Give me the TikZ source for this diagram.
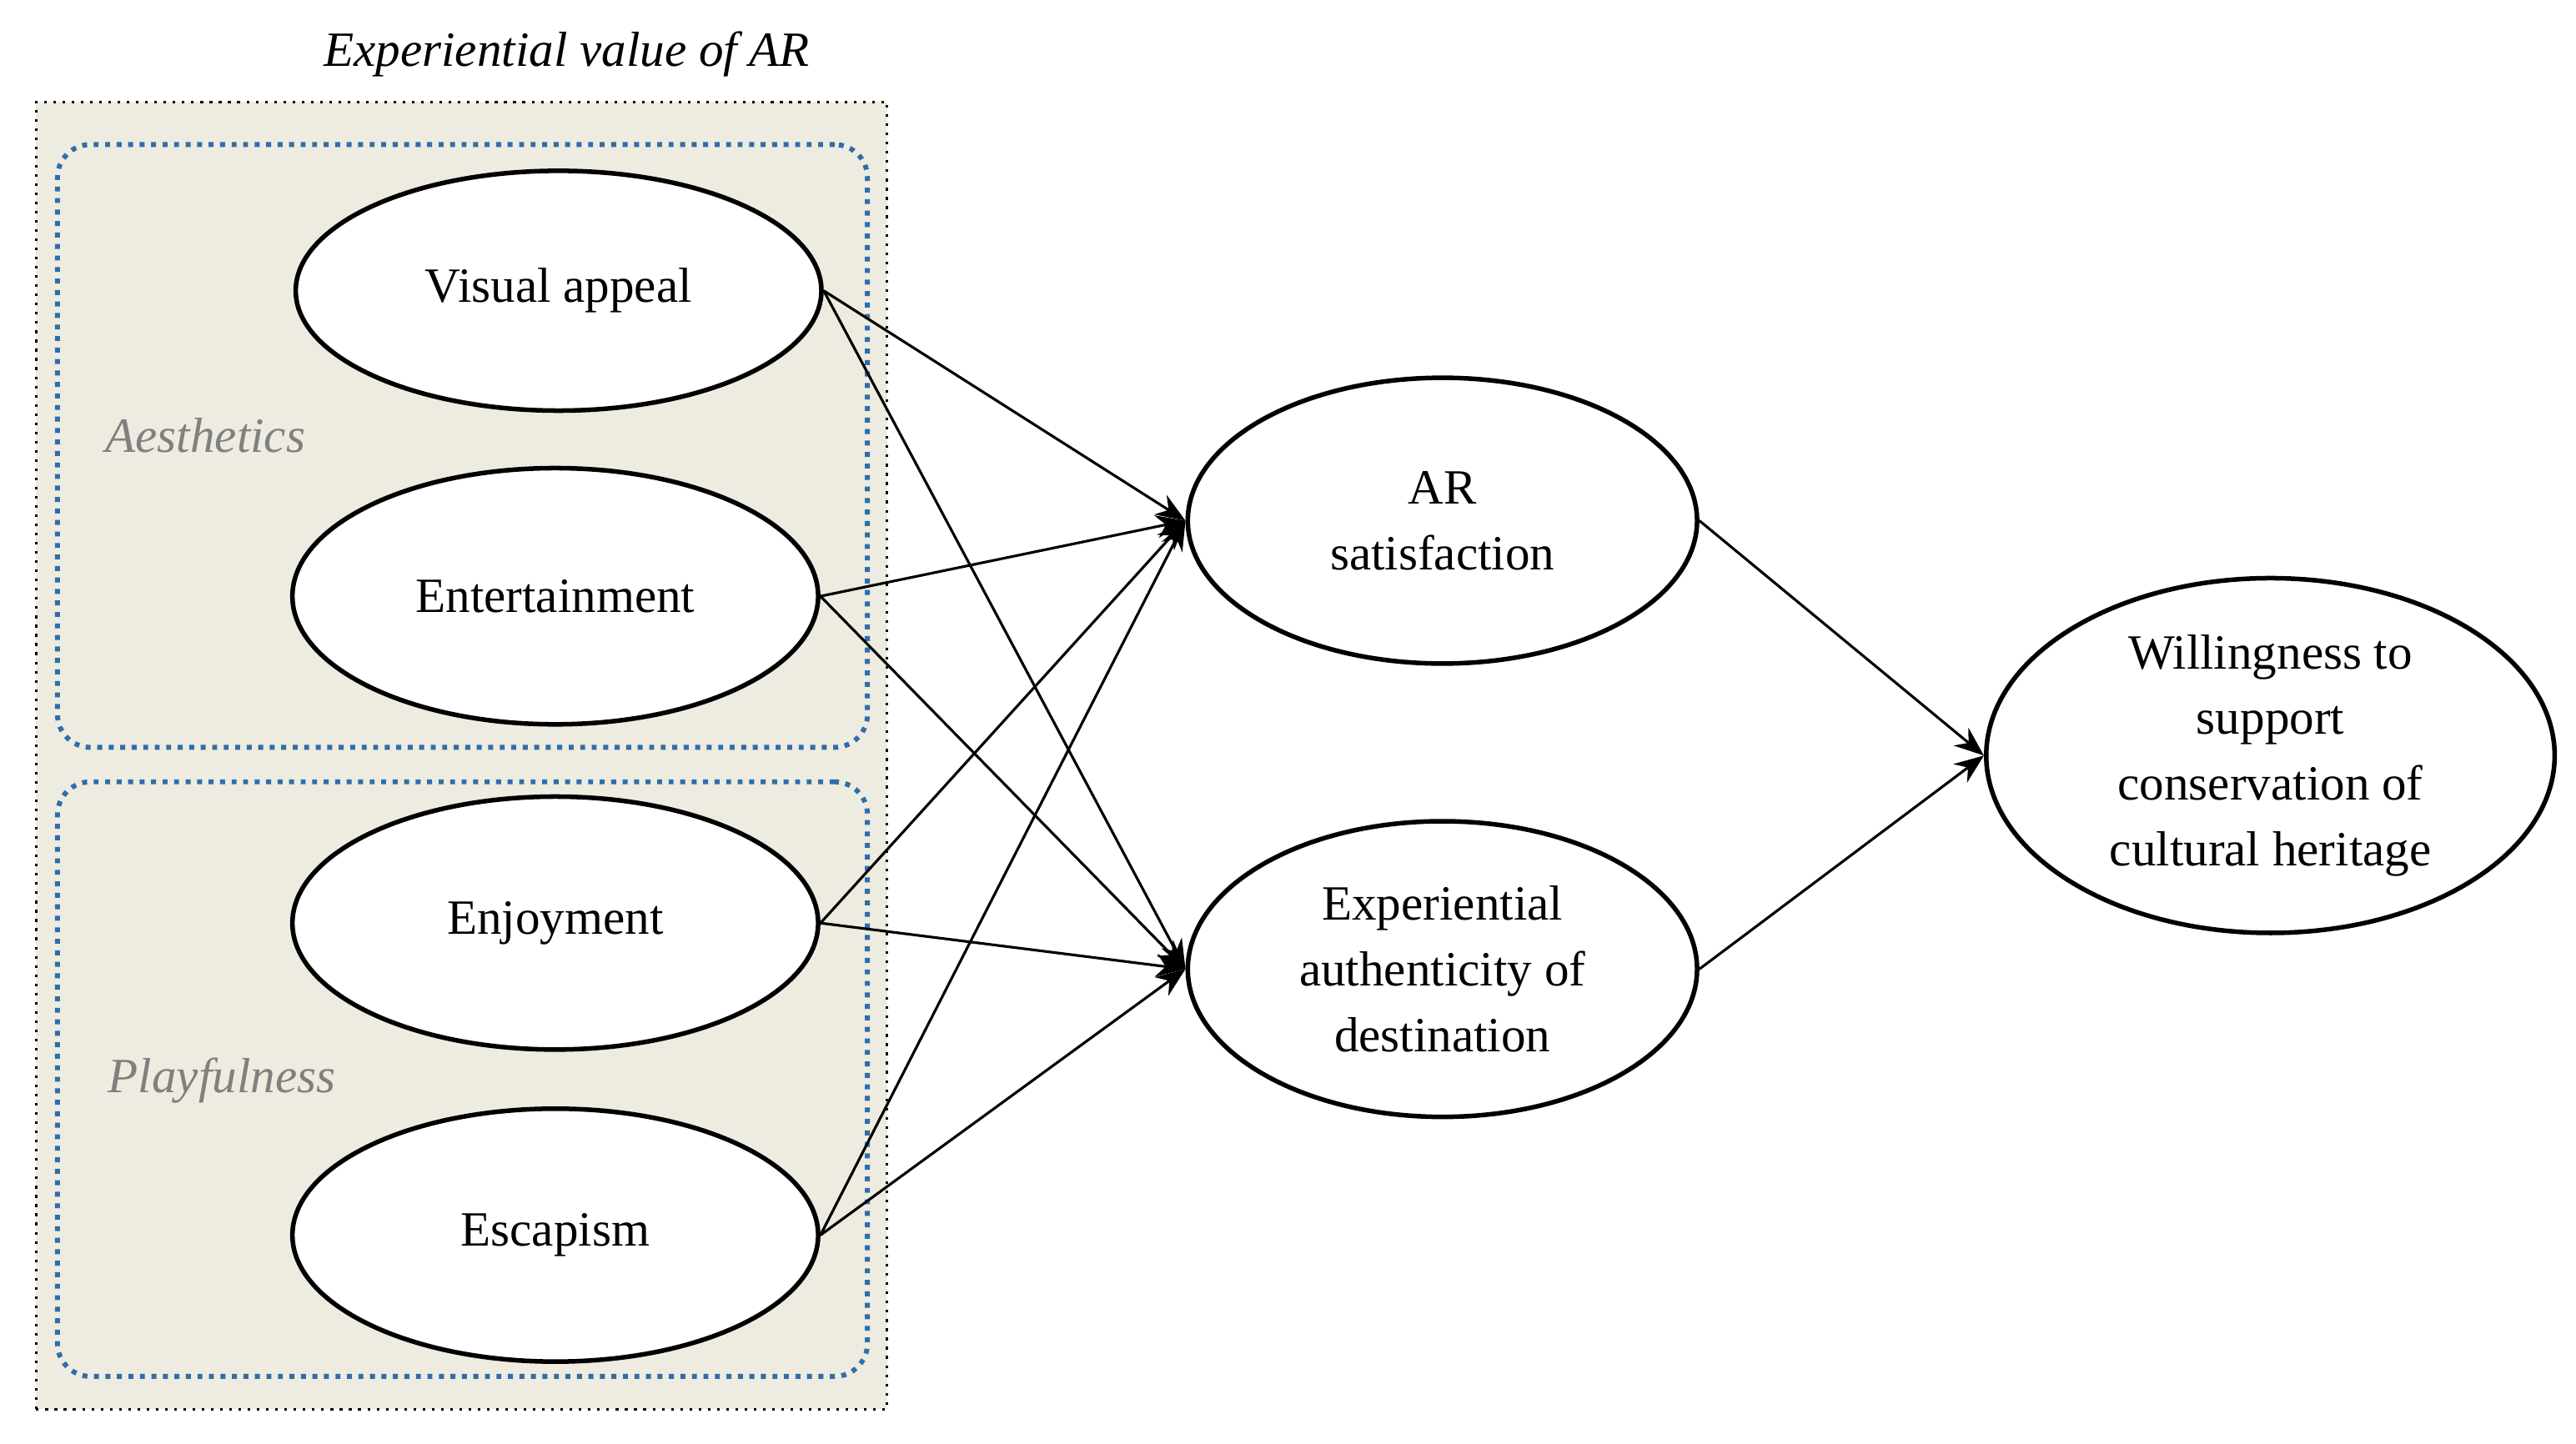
\documentclass[tikz,border=0pt]{standalone}
\usepackage{fontspec}
\setmainfont{Liberation Serif}
\usetikzlibrary{shapes.geometric,arrows.meta}
\definecolor{beige}{RGB}{238,235,224}
\definecolor{dblue}{RGB}{46,110,170}
\begin{document}
\begin{tikzpicture}[x=0.5pt,y=-0.5pt,
  ell/.style={ellipse,draw,line width=1.4pt,fill=white,inner sep=0pt,align=center,font=\fontsize{15}{20}\selectfont},
  arr/.style={-{Stealth[length=9pt,width=7pt]},line width=0.8pt},
  grp/.style={draw=dblue,dotted,line width=1.5pt,rounded corners=10pt},
  glab/.style={font=\fontsize{15}{18}\selectfont\itshape,text=gray}]
\useasboundingbox (0,0) rectangle (1568,879);
\node[draw,dotted,line width=0.8pt,fill=beige,minimum width=259pt,minimum height=398pt,inner sep=0pt] (outer) at (281,460) {};
\node[font=\fontsize{15}{18}\selectfont\itshape] (title) at (345,33) {Experiential value of AR};
\node[grp,minimum width=246.5pt,minimum height=183.5pt,inner sep=0pt] (aes) at (281.5,271.5) {};
\node[grp,minimum width=246.5pt,minimum height=181pt,inner sep=0pt] (play) at (281.5,657) {};
\node[glab] (aesl) at (125,265) {Aesthetics};
\node[glab] (playl) at (135,658) {Playfulness};
\node[ell,minimum width=160pt,minimum height=73pt] (va) at (340,177) {Visual appeal};
\node[ell,minimum width=160pt,minimum height=78pt] (en) at (338,363) {Entertainment};
\node[ell,minimum width=160pt,minimum height=77pt] (ej) at (338,562) {Enjoyment};
\node[ell,minimum width=160pt,minimum height=77pt] (es) at (338,752) {Escapism};
\node[ell,minimum width=155pt,minimum height=87pt] (ar) at (878,317) {AR\\satisfaction};
\node[ell,minimum width=155pt,minimum height=90pt] (ex) at (878,590) {Experiential\\authenticity of\\destination};
\node[ell,minimum width=173pt,minimum height=108pt] (w) at (1382,460) {Willingness to\\support\\conservation of\\cultural heritage};
\foreach \s in {va,en,ej,es}{
  \draw[arr] (\s.east) -- (ar.west);
  \draw[arr] (\s.east) -- (ex.west);
}
\draw[arr] (ar.east) -- (w.west);
\draw[arr] (ex.east) -- (w.west);
\end{tikzpicture}
\end{document}
